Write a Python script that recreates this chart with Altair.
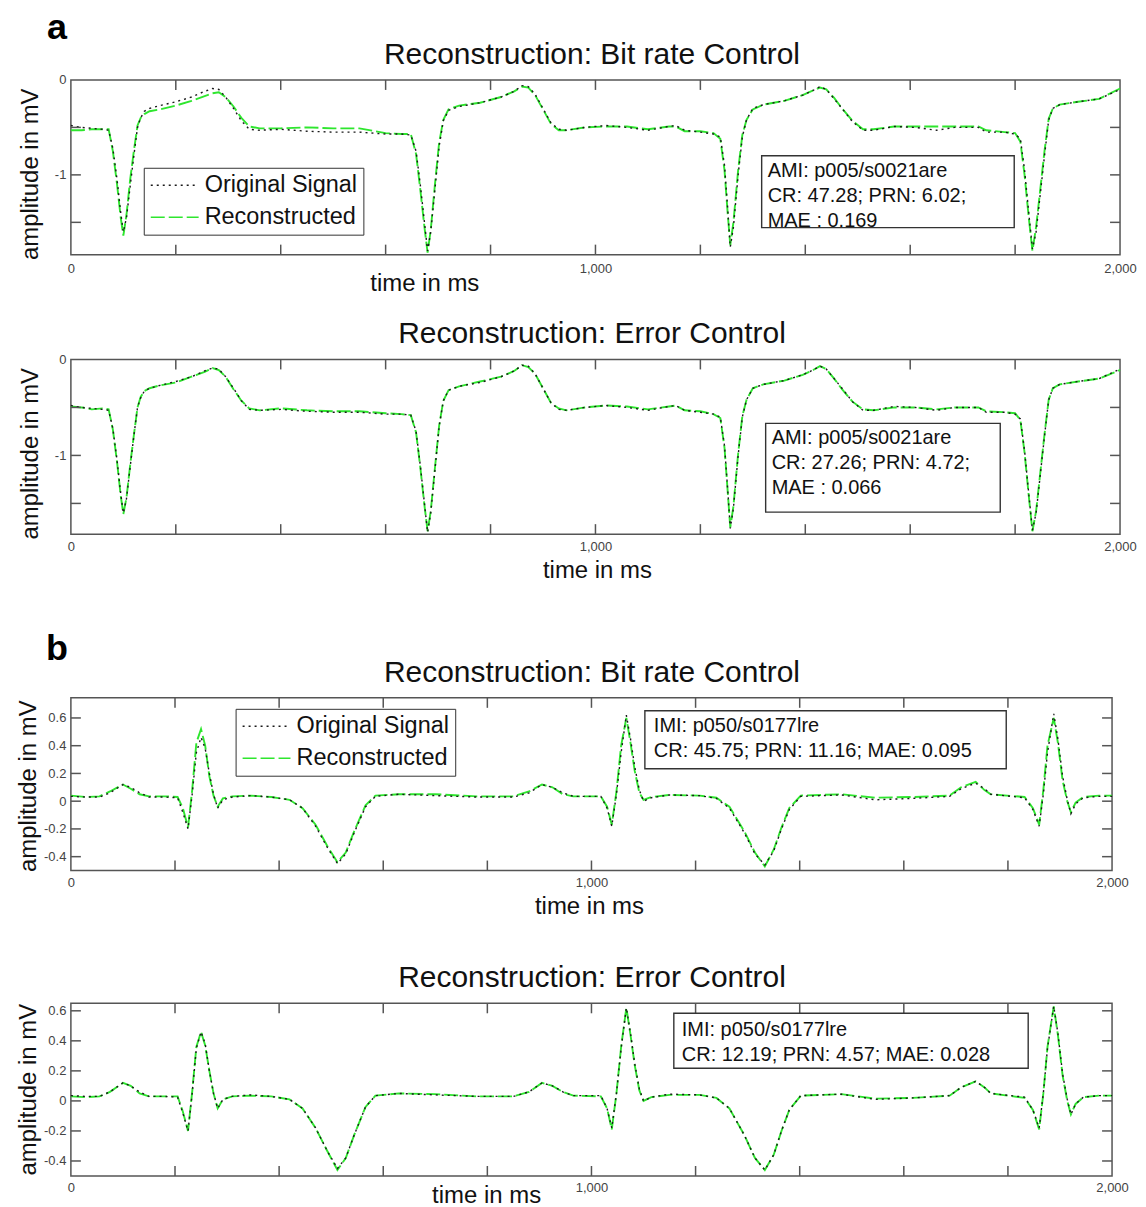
import altair as alt
import pandas as pd

FONT = "Liberation Sans"
SERIES = ["Original Signal", "Reconstructed"]

# ---------------- record A : AMI p005/s0021are ----------------
T_A = [0, 20, 40, 60, 72, 80, 88, 95, 100, 106,
       113, 120, 127, 133, 140, 150, 170, 200, 230, 255,
       270, 282, 295, 310, 325, 340, 360, 400, 450, 500,
       550, 600, 630, 648, 658, 666, 674, 680, 686, 694,
       702, 710, 720, 740, 780, 820, 845, 860, 872, 885,
       900, 915, 930, 945, 980, 1020, 1060, 1100, 1140, 1153,
       1170, 1200, 1225, 1238, 1246, 1252, 1257, 1263, 1272, 1280,
       1288, 1300, 1320, 1360, 1395, 1415, 1428, 1440, 1455, 1470,
       1490, 1510, 1530, 1570, 1610, 1650, 1685, 1730, 1745, 1780,
       1800, 1810, 1818, 1826, 1833, 1840, 1848, 1856, 1864, 1872,
       1885, 1920, 1960, 2000]

ORIG_A = [-0.48, -0.50, -0.51, -0.52, -0.53, -0.72, -1.05, -1.40, -1.60, -1.45,
          -1.12, -0.80, -0.50, -0.40, -0.33, -0.30, -0.27, -0.23, -0.18, -0.12,
          -0.09, -0.10, -0.18, -0.30, -0.43, -0.52, -0.53, -0.52, -0.54, -0.55,
          -0.55, -0.57, -0.57, -0.58, -0.75, -1.10, -1.50, -1.80, -1.60, -1.15,
          -0.70, -0.43, -0.32, -0.28, -0.24, -0.18, -0.12, -0.06, -0.07, -0.15,
          -0.30, -0.45, -0.52, -0.53, -0.50, -0.48, -0.50, -0.53, -0.49, -0.48,
          -0.53, -0.55, -0.57, -0.60, -0.90, -1.35, -1.76, -1.55, -1.00, -0.60,
          -0.42, -0.30, -0.26, -0.22, -0.16, -0.11, -0.07, -0.10, -0.20, -0.30,
          -0.44, -0.53, -0.53, -0.49, -0.50, -0.53, -0.50, -0.50, -0.55, -0.55,
          -0.57, -0.62, -0.95, -1.40, -1.78, -1.60, -1.20, -0.80, -0.42, -0.30,
          -0.26, -0.23, -0.20, -0.10]

REC_A_BITRATE = [-0.53, -0.53, -0.52, -0.52, -0.52, -0.75, -1.10, -1.45, -1.64, -1.42,
                 -1.05, -0.75, -0.48, -0.40, -0.36, -0.33, -0.31, -0.27, -0.22, -0.17,
                 -0.14, -0.13, -0.18, -0.28, -0.40, -0.49, -0.51, -0.51, -0.50, -0.51,
                 -0.51, -0.56, -0.57, -0.57, -0.78, -1.15, -1.55, -1.82, -1.58, -1.10,
                 -0.66, -0.42, -0.31, -0.27, -0.24, -0.18, -0.12, -0.07, -0.08, -0.16,
                 -0.31, -0.46, -0.53, -0.53, -0.50, -0.49, -0.49, -0.52, -0.49, -0.49,
                 -0.54, -0.54, -0.56, -0.62, -0.95, -1.40, -1.74, -1.50, -0.95, -0.58,
                 -0.42, -0.31, -0.26, -0.22, -0.16, -0.11, -0.08, -0.10, -0.19, -0.30,
                 -0.43, -0.52, -0.52, -0.49, -0.49, -0.49, -0.49, -0.49, -0.53, -0.55,
                 -0.56, -0.65, -1.00, -1.45, -1.80, -1.55, -1.15, -0.75, -0.41, -0.30,
                 -0.26, -0.23, -0.20, -0.09]

REC_A_ERROR = [-0.49, -0.50, -0.52, -0.51, -0.52, -0.73, -1.07, -1.42, -1.61, -1.44,
               -1.10, -0.79, -0.50, -0.39, -0.33, -0.30, -0.27, -0.24, -0.18, -0.13,
               -0.09, -0.11, -0.18, -0.31, -0.43, -0.51, -0.53, -0.51, -0.53, -0.54,
               -0.54, -0.56, -0.57, -0.58, -0.76, -1.12, -1.52, -1.79, -1.58, -1.13,
               -0.69, -0.43, -0.32, -0.28, -0.23, -0.18, -0.12, -0.06, -0.08, -0.15,
               -0.30, -0.45, -0.51, -0.53, -0.50, -0.48, -0.49, -0.52, -0.49, -0.48,
               -0.53, -0.54, -0.57, -0.61, -0.92, -1.37, -1.75, -1.53, -0.98, -0.59,
               -0.42, -0.30, -0.26, -0.22, -0.16, -0.11, -0.07, -0.10, -0.20, -0.31,
               -0.44, -0.52, -0.53, -0.50, -0.50, -0.52, -0.50, -0.50, -0.54, -0.55,
               -0.56, -0.63, -0.97, -1.42, -1.79, -1.58, -1.18, -0.78, -0.42, -0.30,
               -0.26, -0.23, -0.20, -0.11]

# ---------------- record B : IMI p050/s0177lre ----------------
T_B = [0, 30, 55, 75, 100, 115, 132, 150, 180, 205,
       215, 225, 233, 241, 250, 258, 266, 274, 282, 292,
       310, 345, 385, 420, 445, 470, 492, 512, 528, 545,
       566, 585, 630, 700, 780, 850, 880, 905, 925, 945,
       965, 1018, 1030, 1039, 1048, 1057, 1067, 1075, 1083, 1092,
       1100, 1115, 1150, 1208, 1240, 1265, 1294, 1314, 1333, 1350,
       1365, 1380, 1402, 1480, 1545, 1617, 1688, 1710, 1738, 1755,
       1767, 1832, 1848, 1860, 1868, 1876, 1888, 1896, 1905, 1914,
       1921, 1930, 1945, 1975, 2000]

ORIG_B = [0.035, 0.03, 0.03, 0.06, 0.12, 0.10, 0.06, 0.03, 0.03, 0.025,
          -0.08, -0.20, 0.05, 0.35, 0.46, 0.38, 0.20, 0.05, -0.05, 0.01,
          0.03, 0.04, 0.03, 0.01, -0.05, -0.18, -0.33, -0.45, -0.38, -0.22,
          -0.04, 0.035, 0.05, 0.04, 0.03, 0.03, 0.06, 0.12, 0.10, 0.06,
          0.035, 0.035, -0.05, -0.18, 0.05, 0.35, 0.62, 0.45, 0.25, 0.08,
          0.0, 0.025, 0.045, 0.04, 0.02, -0.05, -0.23, -0.38, -0.46, -0.36,
          -0.20, -0.06, 0.035, 0.045, 0.01, 0.02, 0.035, 0.09, 0.13, 0.09,
          0.05, 0.025, -0.06, -0.18, 0.05, 0.35, 0.63, 0.45, 0.18, 0.01,
          -0.09, -0.02, 0.025, 0.035, 0.035]

REC_B_BITRATE = [0.04, 0.03, 0.035, 0.07, 0.12, 0.09, 0.05, 0.035, 0.035, 0.03,
                 -0.05, -0.19, 0.08, 0.42, 0.52, 0.40, 0.18, 0.04, -0.04, 0.02,
                 0.035, 0.04, 0.03, 0.01, -0.05, -0.17, -0.32, -0.44, -0.37, -0.21,
                 -0.03, 0.04, 0.05, 0.05, 0.035, 0.035, 0.07, 0.12, 0.10, 0.05,
                 0.035, 0.035, -0.04, -0.17, 0.07, 0.40, 0.60, 0.42, 0.22, 0.06,
                 0.01, 0.03, 0.045, 0.04, 0.025, -0.04, -0.22, -0.37, -0.47, -0.35,
                 -0.19, -0.05, 0.04, 0.05, 0.025, 0.03, 0.04, 0.10, 0.14, 0.08,
                 0.05, 0.03, -0.05, -0.17, 0.08, 0.40, 0.60, 0.42, 0.15, 0.0,
                 -0.08, -0.01, 0.03, 0.04, 0.04]

REC_B_ERROR = [0.03, 0.025, 0.03, 0.06, 0.12, 0.10, 0.05, 0.03, 0.03, 0.03,
               -0.07, -0.20, 0.06, 0.36, 0.46, 0.37, 0.20, 0.05, -0.05, 0.01,
               0.03, 0.035, 0.03, 0.01, -0.05, -0.18, -0.33, -0.46, -0.38, -0.22,
               -0.04, 0.035, 0.05, 0.045, 0.03, 0.03, 0.06, 0.12, 0.10, 0.06,
               0.035, 0.03, -0.05, -0.19, 0.05, 0.36, 0.62, 0.44, 0.24, 0.07,
               0.0, 0.025, 0.04, 0.04, 0.02, -0.05, -0.23, -0.38, -0.46, -0.36,
               -0.20, -0.06, 0.035, 0.045, 0.015, 0.02, 0.035, 0.09, 0.13, 0.09,
               0.05, 0.02, -0.06, -0.19, 0.05, 0.36, 0.63, 0.44, 0.17, 0.0,
               -0.09, -0.02, 0.025, 0.035, 0.035]

# ---------------- axes ----------------
X_TICKS = [200, 400, 600, 800, 1000, 1200, 1400, 1600, 1800]
X_LABELS = [0, 1000, 2000]
Y_TICKS_A = [-1.5, -1.0, -0.5]
Y_LABELS_A = [-1, 0]
Y_TICKS_B = [-0.4, -0.2, 0.0, 0.2, 0.4, 0.6]
Y_LABELS_B = [-0.4, -0.2, 0.0, 0.2, 0.4, 0.6]

NOTE_1 = ["AMI: p005/s0021are", "CR: 47.28; PRN: 6.02;", "MAE : 0.169"]
NOTE_2 = ["AMI: p005/s0021are", "CR: 27.26; PRN: 4.72;", "MAE : 0.066"]
NOTE_3 = ["IMI: p050/s0177lre", "CR: 45.75; PRN: 11.16; MAE: 0.095"]
NOTE_4 = ["IMI: p050/s0177lre", "CR: 12.19; PRN: 4.57; MAE: 0.028"]

FRAME = "#555555"
Y_LABEL_EXPR = "replace(format(datum.value, '~g'), '\u2212', '-')"
X_LABEL_EXPR = "format(datum.value, ',')"


def panel(t, orig, rec, title, ydom, yticks, ylabels, w, h,
          xlab_pad, xtitle_x, xtitle_y, ytitle_x, ytitle_y,
          note, box, legend_xy=None, letter=None):
    rows = []
    for ti, o, r in zip(t, orig, rec):
        rows.append({"t": ti, "v": o, "series": SERIES[0]})
        rows.append({"t": ti, "v": r, "series": SERIES[1]})
    df = pd.DataFrame(rows)

    x_enc = alt.X("t:Q", scale=alt.Scale(domain=[0, 2000], nice=False, zero=False),
                  axis=alt.Axis(values=X_LABELS, labelExpr=X_LABEL_EXPR, tickSize=0, domain=False, grid=False,
                                labelFont=FONT, labelFontSize=13, labelColor="#444",
                                labelPadding=xlab_pad, labelFlush=False, labelOverlap=False,
                                title="time in ms", titleFont=FONT, titleFontSize=24,
                                titleFontWeight="normal", titleColor="#111",
                                titleX=xtitle_x, titleY=xtitle_y, titleBaseline="middle"))
    y_enc = alt.Y("v:Q", scale=alt.Scale(domain=ydom, nice=False, zero=False),
                  axis=alt.Axis(values=ylabels, labelExpr=Y_LABEL_EXPR,
                                tickSize=0, domain=False, grid=False,
                                labelFont=FONT, labelFontSize=13, labelColor="#444",
                                labelPadding=5, labelFlush=False, labelOverlap=False,
                                title="amplitude in mV", titleFont=FONT, titleFontSize=24,
                                titleFontWeight="normal", titleColor="#111",
                                titleX=ytitle_x, titleY=ytitle_y, titleBaseline="middle"))

    if legend_xy is not None:
        leg = alt.Legend(orient="none", legendX=legend_xy[0], legendY=legend_xy[1], title=None,
                         strokeColor="#333", fillColor="white", padding=6,
                         labelFont=FONT, labelFontSize=23.5, labelColor="#111", labelLimit=400,
                         symbolType="stroke", symbolSize=2300, symbolStrokeWidth=1.6,
                         clipHeight=23, rowPadding=8, labelOffset=5)
    else:
        leg = None
    color = alt.Color("series:N", scale=alt.Scale(domain=SERIES, range=["#1a1a1a", "#2ee62e"]), legend=leg)
    dash = alt.StrokeDash("series:N", scale=alt.Scale(domain=SERIES, range=[[2, 4], [14, 4]]), legend=leg)

    base = alt.Chart(df)
    rec_line = base.transform_filter(alt.datum.series == SERIES[1]).mark_line(strokeWidth=1.9).encode(
        x=x_enc, y=y_enc, color=color, strokeDash=dash)
    orig_line = base.transform_filter(alt.datum.series == SERIES[0]).mark_line(strokeWidth=1.4).encode(
        x=x_enc, y=y_enc, color=color, strokeDash=dash)

    xt = alt.Chart(pd.DataFrame({"t": X_TICKS}))
    xtick_top = xt.mark_rule(color=FRAME, strokeWidth=1.5).encode(x=x_enc, y=alt.value(0), y2=alt.value(10))
    xtick_bot = xt.mark_rule(color=FRAME, strokeWidth=1.5).encode(x=x_enc, y=alt.value(h - 10), y2=alt.value(h))
    yt = alt.Chart(pd.DataFrame({"v": yticks}))
    ytick_l = yt.mark_rule(color=FRAME, strokeWidth=1.5).encode(y=y_enc, x=alt.value(0), x2=alt.value(10))
    ytick_r = yt.mark_rule(color=FRAME, strokeWidth=1.5).encode(y=y_enc, x=alt.value(w - 10), x2=alt.value(w))

    one = alt.Chart(pd.DataFrame({"k": [0]}))
    rect = one.mark_rect(fill="white", stroke="#333", strokeWidth=1.4).encode(
        x=alt.value(box[0]), x2=alt.value(box[1]), y=alt.value(box[2]), y2=alt.value(box[3]))
    text = one.mark_text(text=note, align="left", baseline="top", font=FONT, fontSize=20,
                         lineHeight=25, color="#111").encode(x=alt.value(box[4]), y=alt.value(box[5]))
    ttl = one.mark_text(text=title, align="center", baseline="middle", font=FONT, fontSize=30,
                        color="#111").encode(x=alt.value(522), y=alt.value(-25))
    layers = [rec_line, orig_line, xtick_top, xtick_bot, ytick_l, ytick_r, rect, text, ttl]
    if letter is not None:
        layers.append(one.mark_text(text=letter[0], font=FONT, fontSize=36, fontWeight="bold",
                                    align="center", baseline="alphabetic", color="#000").encode(
            x=alt.value(letter[1]), y=alt.value(letter[2])))
    return alt.layer(*layers).properties(width=w, height=h)


WA, WB = 1051, 1043
p1 = panel(T_A, ORIG_A, REC_A_BITRATE, "Reconstruction: Bit rate Control", [-1.84, 0.0],
           Y_TICKS_A, Y_LABELS_A, WA, 175, 8, 354, 29, -40, 94,
           NOTE_1, [692, 945, 76, 148, 698, 81], legend_xy=(73, 88), letter=("a", -14, -41))
p2 = panel(T_A, ORIG_A, REC_A_ERROR, "Reconstruction: Error Control", [-1.82, 0.0],
           Y_TICKS_A, Y_LABELS_A, WA, 175, 6, 527, 36, -40, 94,
           NOTE_2, [696, 931, 64, 153, 702, 69])
p3 = panel(T_B, ORIG_B, REC_B_BITRATE, "Reconstruction: Bit rate Control", [-0.50, 0.745],
           Y_TICKS_B, Y_LABELS_B, WB, 173, 6, 519, 36, -42, 88,
           NOTE_3, [575, 937, 13, 71, 584, 18], legend_xy=(165, 11), letter=("b", -14, -38))
p4 = panel(T_B, ORIG_B, REC_B_ERROR, "Reconstruction: Error Control", [-0.50, 0.65],
           Y_TICKS_B, Y_LABELS_B, WB, 173, 6, 416, 20, -42, 86,
           NOTE_4, [604, 959, 10, 65, 612, 17])

RES = dict(color="independent", strokeDash="independent", x="independent", y="independent")
top = alt.vconcat(p1, p2, spacing=22).resolve_scale(**RES)
bottom = alt.vconcat(p3, p4, spacing=43).resolve_scale(**RES)
chart = alt.vconcat(top, bottom, spacing=47).resolve_scale(**RES).configure_view(
    stroke=FRAME, strokeWidth=1.5).properties(
    padding={"left": 8, "top": 0, "right": 0, "bottom": 0}, background="white")

chart.save("out.html", embed_options={"renderer": "svg", "actions": False})
